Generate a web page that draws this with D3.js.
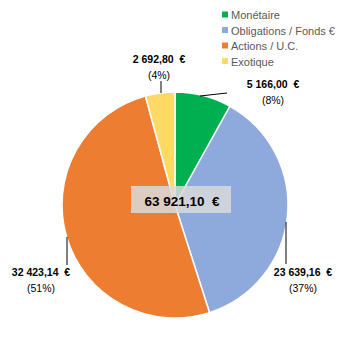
<!DOCTYPE html>
<html lang="fr">
<head>
<meta charset="UTF-8">
<script src="https://d3js.org/d3.v7.min.js"></script>
<style>
  body { margin: 0; background: #fff; }
  svg { font-family: 'Liberation Sans', Arial, sans-serif; }
  svg text { white-space: pre; }
  .lbl { font-size: 10.5px; fill: #000; }
  .legend text { font-size: 11px; fill: #595959; }
</style>
</head>
<body>
<svg width="345" height="345"></svg>
<script>
// données
const categories = ["Monétaire", "Obligations / Fonds €", "Actions / U.C.", "Exotique"];
const values = [5166.00, 23639.16, 32423.14, 2692.80];
const valueLabels = ["5 166,00  €", "23 639,16  €", "32 423,14  €", "2 692,80  €"];
const pctLabels = ["(8%)", "(37%)", "(51%)", "(4%)"];
const totalLabel = "63 921,10  €";
const colors = ["#00B050", "#8EA9DB", "#ED7D31", "#FFD966"];

const svg = d3.select("svg");
const cx = 175, cy = 205, r = 113;

const pie = d3.pie().sort(null).value(d => d)(values);
const arc = d3.arc().innerRadius(0).outerRadius(r);

const g = svg.append("g").attr("transform", `translate(${cx},${cy})`);
g.selectAll("path")
  .data(pie)
  .enter()
  .append("path")
  .attr("d", arc)
  .attr("fill", (d, i) => colors[i])
  .attr("stroke", "#fff")
  .attr("stroke-width", 1.5);

// étiquettes (position relative au centre)
const labelPos = [
  { x: 98, y: -117, line: [[25, -109], [52, -112]] },
  { x: 128, y: 71, line: [[111, 17], [111, 59]] },
  { x: -134, y: 71, line: [[-108, 32], [-108, 60]] },
  { x: -16, y: -142, line: [[-14, -124], [-14, -112]] }
];

labelPos.forEach((p, i) => {
  g.append("polyline")
    .attr("points", p.line.map(q => q.join(",")).join(" "))
    .attr("fill", "none")
    .attr("stroke", "#000")
    .attr("stroke-width", 1);
  g.append("text")
    .attr("class", "lbl")
    .attr("x", p.x).attr("y", p.y)
    .attr("text-anchor", "middle")
    .attr("font-weight", "bold")
    .text(valueLabels[i]);
  g.append("text")
    .attr("class", "lbl")
    .attr("x", p.x).attr("y", p.y + 16)
    .attr("text-anchor", "middle")
    .text(pctLabels[i]);
});

// total au centre
g.append("rect")
  .attr("x", -44).attr("y", -19)
  .attr("width", 100).attr("height", 27)
  .attr("fill", "#D9D9D9")
  .attr("fill-opacity", 0.85);
g.append("text")
  .attr("x", 7).attr("y", 1)
  .attr("text-anchor", "middle")
  .attr("font-size", "13.5px")
  .attr("font-weight", "bold")
  .attr("fill", "#000")
  .text(totalLabel);

// légende
const legend = svg.append("g").attr("class", "legend");
categories.forEach((c, i) => {
  const y = 15 + i * 15.5;
  legend.append("rect")
    .attr("x", 222).attr("y", y - 3.5)
    .attr("width", 6).attr("height", 6)
    .attr("fill", colors[i]);
  legend.append("text")
    .attr("x", 231).attr("y", y + 4)
    .text(c);
});
</script>
</body>
</html>
